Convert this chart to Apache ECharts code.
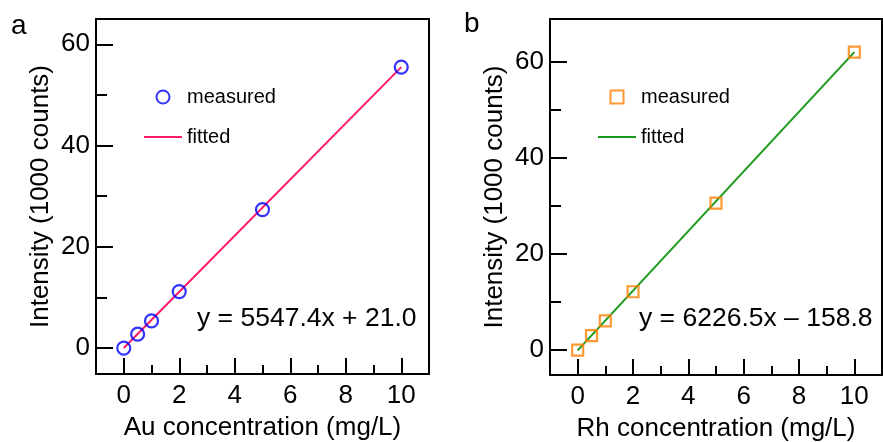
<!DOCTYPE html>
<html>
<head>
<meta charset="utf-8">
<script src="https://cdn.jsdelivr.net/npm/echarts@6/dist/echarts.min.js"></script>
<style>
html, body { margin: 0; padding: 0; background: #fff; }
#chart { width: 883px; height: 442px; }
</style>
</head>
<body>
<div id="chart"></div>
<script>
// concentrations (mg/L)
var conc = [0, 0.5, 1, 2, 5, 10];
// intensities (1000 counts)
var auMeasured = [0, 2.76, 5.39, 11.17, 27.36, 55.5];
var rhMeasured = [-0.1, 2.9, 5.98, 12.08, 30.56, 62.1];
var fitX = [0, 10];
var auFitted = [0.02, 55.5];
var rhFitted = [-0.16, 62.1];

var xTicks = [0, 2, 4, 6, 8, 10];
var xMinorTicks = [1, 3, 5, 7, 9];
var yTicks = [0, 20, 40, 60];
var yMinorTicks = [10, 30, 50];

var font = "'Liberation Sans', Arial, sans-serif";
var squareIcon = 'path://M0,0L10,0L10,10L0,10Z';

function pairs(xs, ys) {
    return xs.map(function (x, i) { return [x, ys[i]]; });
}

function xAxisPair(grid, name) {
    return [
        {
            type: 'value', gridIndex: grid, min: -1, max: 11, position: 'bottom',
            name: name, nameLocation: 'middle', nameGap: 41,
            nameTextStyle: { fontSize: 26, color: '#000', fontFamily: font },
            axisLine: { show: false, onZero: false },
            splitLine: { show: false },
            axisTick: { inside: true, length: 16, customValues: xTicks, lineStyle: { color: '#000', width: 2 } },
            axisLabel: { margin: 9, fontSize: 26, color: '#000', fontFamily: font, customValues: xTicks }
        },
        {
            type: 'value', gridIndex: grid, min: -1, max: 11, position: 'bottom',
            axisLine: { show: false, onZero: false },
            splitLine: { show: false },
            axisTick: { inside: true, length: 9, customValues: xMinorTicks, lineStyle: { color: '#000', width: 2 } },
            axisLabel: { show: false }
        }
    ];
}

function yAxisPair(grid, min, max) {
    return [
        {
            type: 'value', gridIndex: grid, min: min, max: max, position: 'left',
            name: 'Intensity (1000 counts)', nameLocation: 'middle', nameGap: 42,
            nameTextStyle: { fontSize: 26, color: '#000', fontFamily: font },
            axisLine: { show: false, onZero: false },
            splitLine: { show: false },
            axisTick: { inside: true, length: 17, customValues: yTicks, lineStyle: { color: '#000', width: 2 } },
            axisLabel: { margin: 6, fontSize: 26, color: '#000', fontFamily: font, customValues: yTicks }
        },
        {
            type: 'value', gridIndex: grid, min: min, max: max, position: 'left',
            axisLine: { show: false, onZero: false },
            splitLine: { show: false },
            axisTick: { inside: true, length: 11, customValues: yMinorTicks, lineStyle: { color: '#000', width: 2 } },
            axisLabel: { show: false }
        }
    ];
}

function legendFor(left, measured, fitted, measuredIcon) {
    return {
        orient: 'vertical', left: left, top: 87, padding: 0,
        itemWidth: 38, itemHeight: 13, itemGap: 20,
        textStyle: { fontSize: 20, color: '#000', fontFamily: font },
        formatter: function (n) { return n.split(' ')[1]; },
        data: [
            { name: measured, icon: measuredIcon },
            { name: fitted, itemStyle: { opacity: 0 } }
        ]
    };
}

var chart = echarts.init(document.getElementById('chart'));

var option = {
    backgroundColor: '#fff',
    animation: false,
    grid: [
        { left: 96, top: 19, width: 333, height: 355, outerBoundsMode: 'none', show: true, borderColor: '#000', borderWidth: 2, backgroundColor: 'transparent' },
        { left: 550, top: 19, width: 332, height: 356, outerBoundsMode: 'none', show: true, borderColor: '#000', borderWidth: 2, backgroundColor: 'transparent' }
    ],
    xAxis: xAxisPair(0, 'Au concentration (mg/L)').concat(xAxisPair(1, 'Rh concentration (mg/L)')),
    yAxis: yAxisPair(0, -5.1, 65).concat(yAxisPair(1, -5.3, 69)),
    legend: [
        legendFor(143, 'Au measured', 'Au fitted', 'circle'),
        legendFor(597, 'Rh measured', 'Rh fitted', squareIcon)
    ],
    graphic: [
        { type: 'text', left: 11, top: 12, style: { text: 'a', fontSize: 28, fill: '#000', fontFamily: font } },
        { type: 'text', left: 464, top: 10, style: { text: 'b', fontSize: 28, fill: '#000', fontFamily: font } },
        { type: 'text', x: 197, y: 319, style: { text: 'y = 5547.4x + 21.0', fontSize: 26.5, fill: '#000', fontFamily: font, verticalAlign: 'middle' } },
        { type: 'text', x: 639, y: 319, style: { text: 'y = 6226.5x \u2013 158.8', fontSize: 26.5, fill: '#000', fontFamily: font, verticalAlign: 'middle' } }
    ],
    series: [
        {
            name: 'Au fitted', type: 'line', xAxisIndex: 0, yAxisIndex: 0,
            symbol: 'none', data: pairs(fitX, auFitted),
            lineStyle: { color: '#ff1a66', width: 2 }, itemStyle: { color: '#ff1a66' }, z: 2
        },
        {
            name: 'Au measured', type: 'scatter', xAxisIndex: 0, yAxisIndex: 0,
            symbol: 'circle', symbolSize: 13,
            data: pairs(conc, auMeasured),
            itemStyle: { color: 'rgba(0,0,0,0)', borderColor: '#0000ff', borderWidth: 2.2 }, z: 3
        },
        {
            name: 'Rh fitted', type: 'line', xAxisIndex: 2, yAxisIndex: 2,
            symbol: 'none', data: pairs(fitX, rhFitted),
            lineStyle: { color: '#1a9a1a', width: 2 }, itemStyle: { color: '#1a9a1a' }, z: 2
        },
        {
            name: 'Rh measured', type: 'scatter', xAxisIndex: 2, yAxisIndex: 2,
            symbol: 'rect', symbolSize: 11,
            data: pairs(conc, rhMeasured),
            itemStyle: { color: 'rgba(0,0,0,0)', borderColor: '#ff8000', borderWidth: 2.2 }, z: 3
        }
    ]
};

chart.setOption(option);
</script>
</body>
</html>
